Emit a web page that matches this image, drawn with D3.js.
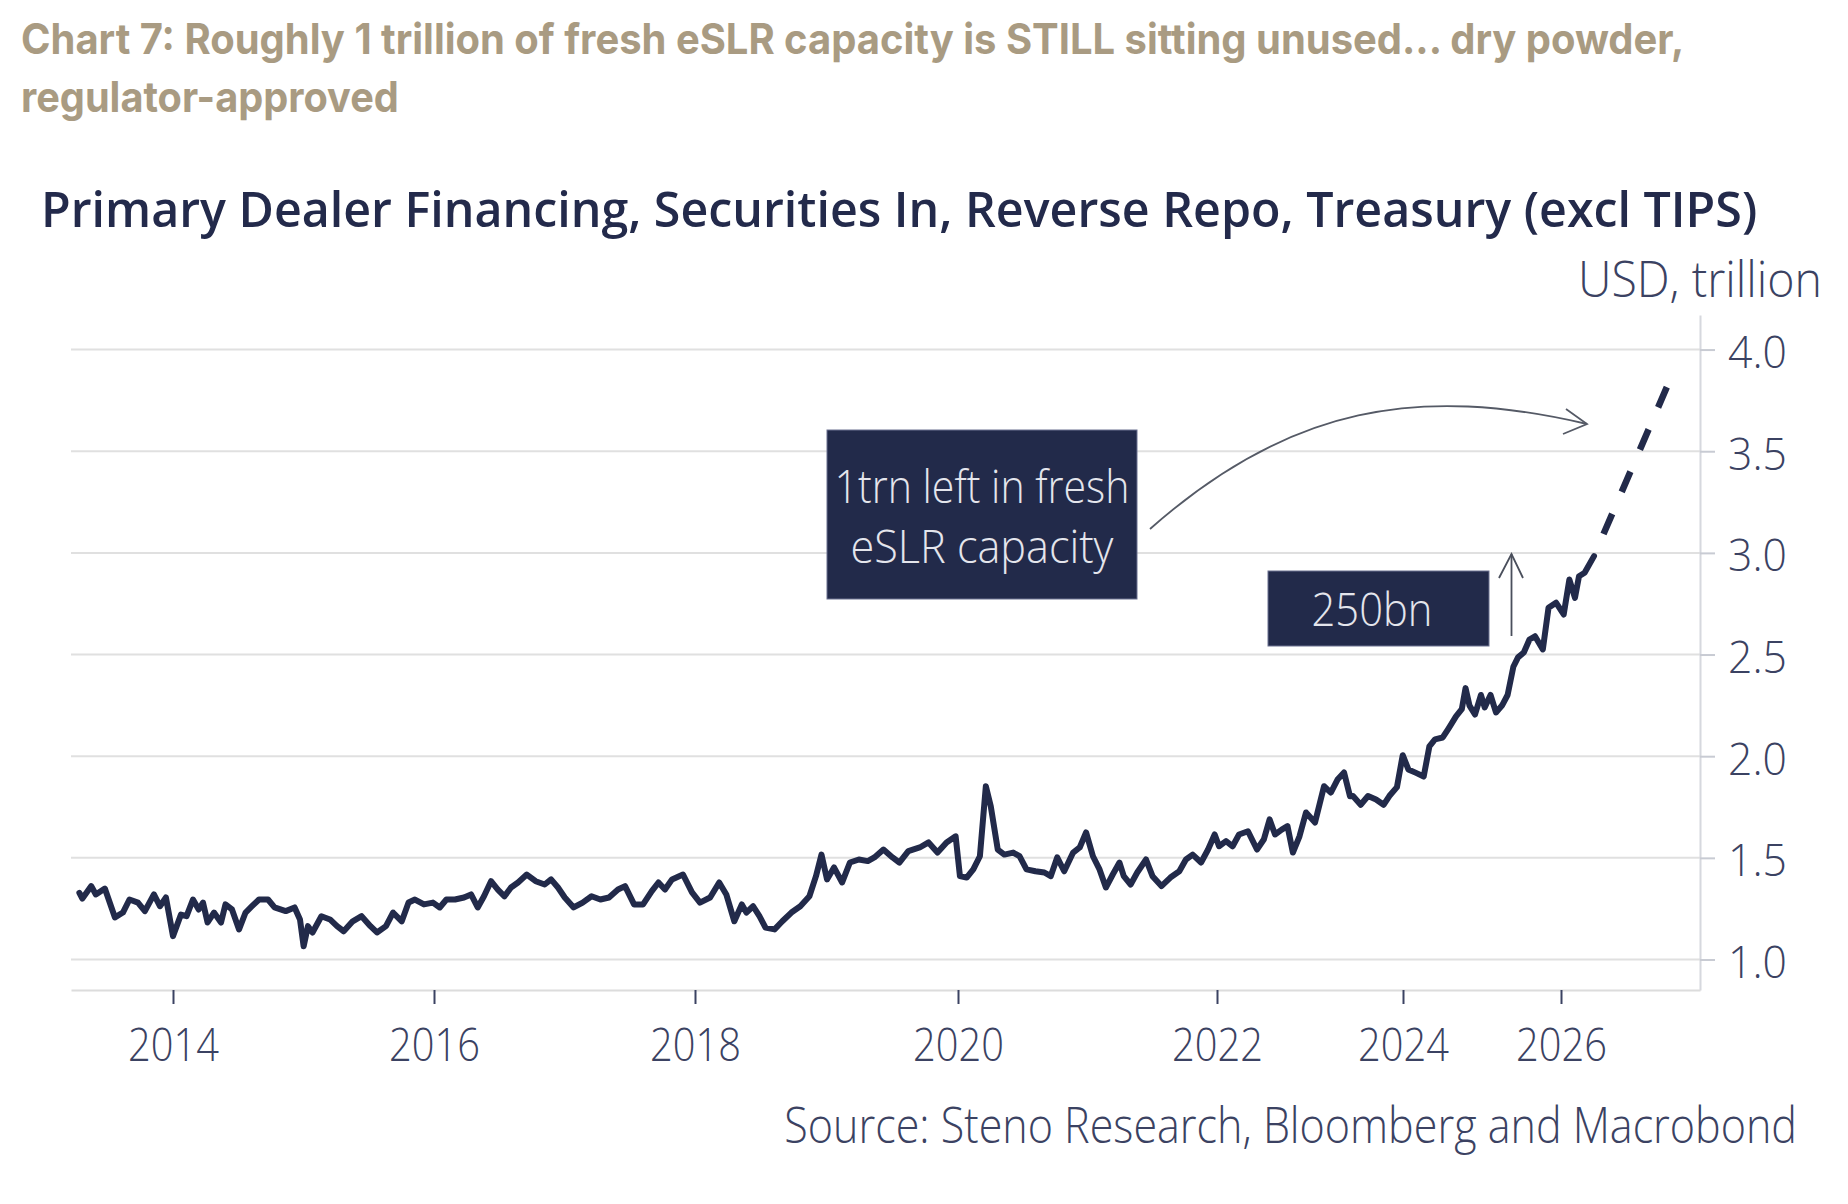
<!DOCTYPE html>
<html>
<head>
<meta charset="utf-8">
<script src="https://cdn.jsdelivr.net/npm/d3@7"></script>
<style>
  html, body { margin: 0; padding: 0; background: #ffffff; }
  svg { display: block; }
</style>
</head>
<body>
<svg id="chart" width="1848" height="1204"></svg>
<script>
// ---------------- DATA ----------------
const years = [
  2013.284, 2013.307, 2013.375, 2013.410, 2013.479, 2013.556, 2013.617, 2013.667, 2013.732, 2013.785,
  2013.854, 2013.900, 2013.946, 2014.000, 2014.061, 2014.104, 2014.153, 2014.197, 2014.230, 2014.265,
  2014.314, 2014.368, 2014.402, 2014.452, 2014.506, 2014.556, 2014.605, 2014.659, 2014.728, 2014.778,
  2014.864, 2014.932, 2014.973, 2015.001, 2015.034, 2015.069, 2015.137, 2015.203, 2015.257, 2015.308,
  2015.377, 2015.445, 2015.513, 2015.563, 2015.632, 2015.686, 2015.753, 2015.805, 2015.854, 2015.923,
  2015.992, 2016.044, 2016.095, 2016.161, 2016.230, 2016.284, 2016.335, 2016.383, 2016.437, 2016.489,
  2016.540, 2016.590, 2016.644, 2016.711, 2016.779, 2016.848, 2016.897, 2016.950, 2017.002, 2017.070,
  2017.139, 2017.207, 2017.275, 2017.341, 2017.410, 2017.464, 2017.533, 2017.602, 2017.669, 2017.720,
  2017.770, 2017.824, 2017.908, 2017.977, 2018.038, 2018.115, 2018.184, 2018.238, 2018.299, 2018.356,
  2018.391, 2018.442, 2018.490, 2018.536, 2018.605, 2018.664, 2018.733, 2018.801, 2018.870, 2018.920,
  2018.962, 2019.004, 2019.057, 2019.119, 2019.178, 2019.246, 2019.314, 2019.364, 2019.433, 2019.502,
  2019.554, 2019.622, 2019.709, 2019.776, 2019.844, 2019.913, 2019.982, 2020.015, 2020.067, 2020.118,
  2020.169, 2020.215, 2020.253, 2020.307, 2020.358, 2020.426, 2020.475, 2020.529, 2020.598, 2020.667,
  2020.716, 2020.766, 2020.820, 2020.889, 2020.940, 2020.989, 2021.042, 2021.093, 2021.142, 2021.195,
  2021.247, 2021.280, 2021.333, 2021.384, 2021.452, 2021.502, 2021.571, 2021.640, 2021.709, 2021.760,
  2021.812, 2021.877, 2021.931, 2021.982, 2022.022, 2022.097, 2022.168, 2022.237, 2022.333, 2022.430,
  2022.503, 2022.566, 2022.624, 2022.696, 2022.758, 2022.816, 2022.887, 2022.957, 2023.054, 2023.151,
  2023.224, 2023.296, 2023.366, 2023.430, 2023.462, 2023.545, 2023.624, 2023.710, 2023.791, 2023.853,
  2023.935, 2023.997, 2024.068, 2024.165, 2024.262, 2024.334, 2024.405, 2024.503, 2024.576, 2024.671,
  2024.744, 2024.792, 2024.842, 2024.911, 2024.987, 2025.034, 2025.108, 2025.177, 2025.253, 2025.324,
  2025.397, 2025.456, 2025.529, 2025.601, 2025.671, 2025.770, 2025.842, 2025.937, 2026.034, 2026.106,
  2026.177, 2026.228, 2026.299, 2026.418
];
const values = [
  1.328, 1.300, 1.361, 1.320, 1.349, 1.207, 1.231, 1.295, 1.280, 1.238,
  1.320, 1.262, 1.305, 1.115, 1.221, 1.213, 1.295, 1.246, 1.280, 1.182,
  1.231, 1.182, 1.271, 1.246, 1.148, 1.231, 1.262, 1.295, 1.295, 1.256,
  1.238, 1.256, 1.197, 1.065, 1.164, 1.133, 1.213, 1.197, 1.164, 1.139,
  1.188, 1.213, 1.164, 1.133, 1.164, 1.231, 1.188, 1.280, 1.295, 1.271,
  1.280, 1.256, 1.295, 1.295, 1.305, 1.320, 1.256, 1.311, 1.385, 1.344,
  1.311, 1.354, 1.379, 1.418, 1.385, 1.369, 1.394, 1.354, 1.305, 1.256,
  1.280, 1.311, 1.295, 1.305, 1.344, 1.361, 1.271, 1.271, 1.336, 1.379,
  1.344, 1.394, 1.418, 1.330, 1.280, 1.305, 1.379, 1.320, 1.188, 1.271,
  1.231, 1.262, 1.213, 1.157, 1.148, 1.188, 1.231, 1.262, 1.311, 1.410,
  1.516, 1.394, 1.453, 1.379, 1.477, 1.492, 1.484, 1.502, 1.541, 1.502,
  1.477, 1.533, 1.551, 1.576, 1.526, 1.576, 1.606, 1.410, 1.403, 1.443,
  1.508, 1.852, 1.754, 1.541, 1.516, 1.526, 1.508, 1.443, 1.434, 1.428,
  1.410, 1.502, 1.434, 1.526, 1.551, 1.625, 1.508, 1.443, 1.354, 1.418,
  1.477, 1.410, 1.369, 1.428, 1.492, 1.410, 1.361, 1.403, 1.434, 1.492,
  1.516, 1.477, 1.541, 1.615, 1.557, 1.582, 1.557, 1.615, 1.631, 1.541,
  1.590, 1.689, 1.615, 1.639, 1.656, 1.526, 1.606, 1.723, 1.674, 1.852,
  1.821, 1.885, 1.920, 1.803, 1.804, 1.761, 1.804, 1.787, 1.761, 1.804,
  1.848, 2.005, 1.935, 1.918, 1.900, 2.048, 2.083, 2.092, 2.136, 2.196,
  2.231, 2.335, 2.249, 2.205, 2.301, 2.240, 2.301, 2.215, 2.249, 2.301,
  2.440, 2.486, 2.510, 2.574, 2.590, 2.525, 2.730, 2.755, 2.697, 2.869,
  2.779, 2.885, 2.902, 2.984
];
// dashed projection
const projYears = [2026.418, 2027.354];
const projValues = [2.984, 3.828];

const xTickYears = [2014, 2016, 2018, 2020, 2022, 2024, 2026];
const yTickValues = [1.0, 1.5, 2.0, 2.5, 3.0, 3.5, 4.0];

const titleLines = [
  "Chart 7: Roughly 1 trillion of fresh eSLR capacity is STILL sitting unused... dry powder,",
  "regulator-approved"
];
const subtitle = "Primary Dealer Financing, Securities In, Reverse Repo, Treasury (excl TIPS)";
const unitLabel = "USD, trillion";
const sourceText = "Source: Steno Research, Bloomberg and Macrobond";
const box1Lines = ["1trn left in fresh", "eSLR capacity"];
const box2Text = "250bn";

// ---------------- LAYOUT ----------------
const svg = d3.select("#chart");
const NAVY = "#222a4a";
const AXIS_TXT = "#3b4262";
const LIGHT = "Open Sans, Noto Sans, sans-serif";

// the reference's time axis is not uniform: piecewise-linear year scale
const xBreaks = [2013.22, 2014, 2016, 2018, 2020, 2022, 2024, 2026, 2027.76];
const xBreakPos = [71, 173, 434, 695, 958, 1217, 1403, 1561, 1700];
const x = d3.scaleLinear().domain(xBreaks).range(xBreakPos);
const y = d3.scaleLinear().domain([0.85, 4.17]).range([990, 315]);

// text whose glyphs are condensed to a target width while keeping a given em height
function addText(g, o) {
  const holder = g.append("g");
  const t = holder.append("text")
    .attr("x", 0).attr("y", 0)
    .attr("font-family", o.family || LIGHT)
    .attr("font-size", o.size)
    .attr("font-weight", o.weight || 300)
    .attr("fill", o.fill || AXIS_TXT)
    .attr("text-anchor", o.anchor || "start")
    .text(o.text);
  let k = 1;
  if (o.width) {
    const w = t.node().getComputedTextLength();
    const s = o.size * o.width / w;
    t.attr("font-size", s);
    k = o.size / s;
  }
  holder.attr("transform", `translate(${o.x},${o.y}) scale(1,${k})`);
  return t;
}
function condenseTicks(sel, size, sampleWidth, baseY) {
  const nodes = sel.nodes();
  sel.attr("font-size", size);
  const w = nodes[nodes.length - 1].getComputedTextLength();
  const s = size * sampleWidth / w;
  const k = size / s;
  sel.attr("font-size", s).attr("y", baseY / k).attr("transform", `scale(1,${k})`);
}

// titles
addText(svg, {text: titleLines[0], x: 21, y: 54, size: 42.5, weight: 700,
  family: "Inter, sans-serif", fill: "#a99b82", width: 1664});
addText(svg, {text: titleLines[1], x: 21, y: 112, size: 42.5, weight: 700,
  family: "Inter, sans-serif", fill: "#a99b82", width: 378});
addText(svg, {text: subtitle, x: 41, y: 227, size: 49, weight: 600,
  family: "Open Sans, sans-serif", fill: "#232a4b", width: 1717});
addText(svg, {text: unitLabel, x: 1822, y: 297, size: 49, anchor: "end", width: 244});

// gridlines
svg.append("g").selectAll("line").data(yTickValues).join("line")
  .attr("x1", x(xBreaks[0])).attr("x2", x(xBreaks[xBreaks.length - 1]))
  .attr("y1", d => y(d)).attr("y2", d => y(d))
  .attr("stroke", "#e0e0e0").attr("stroke-width", 2);

// right axis
const yAxis = svg.append("g")
  .attr("transform", `translate(${x(xBreaks[xBreaks.length - 1])},0)`)
  .call(d3.axisRight(y).tickValues(yTickValues).tickSize(15).tickSizeOuter(0)
    .tickFormat(d3.format(".1f")));
yAxis.select(".domain").attr("stroke", "#d6d8de").attr("stroke-width", 2);
yAxis.selectAll(".tick line").attr("stroke", "#c8cbd3").attr("stroke-width", 2);
const yTickText = yAxis.selectAll(".tick text")
  .attr("x", 87).attr("dy", null)
  .attr("text-anchor", "end")
  .attr("font-family", LIGHT).attr("font-weight", 300)
  .attr("fill", AXIS_TXT);
condenseTicks(yTickText, 45, 59, 18);

// bottom axis
const xAxis = svg.append("g")
  .attr("transform", `translate(0,${y(0.85)})`)
  .call(d3.axisBottom(x).tickValues(xTickYears).tickSize(14).tickSizeOuter(0)
    .tickFormat(d3.format("d")));
xAxis.select(".domain").attr("stroke", "#dcdcdc").attr("stroke-width", 2);
xAxis.selectAll(".tick line").attr("stroke", AXIS_TXT).attr("stroke-width", 2);
const xTickText = xAxis.selectAll(".tick text")
  .attr("dy", null)
  .attr("font-family", LIGHT).attr("font-weight", 300)
  .attr("fill", AXIS_TXT);
condenseTicks(xTickText, 46, 91, 71);

// data line
const data = years.map((yr, i) => ({yr, v: values[i]}));
const proj = projYears.map((yr, i) => ({yr, v: projValues[i]}));
const line = d3.line().x(d => x(d.yr)).y(d => y(d.v));

svg.append("path").datum(data)
  .attr("d", line)
  .attr("fill", "none").attr("stroke", NAVY)
  .attr("stroke-width", 6).attr("stroke-linejoin", "round").attr("stroke-linecap", "round");

svg.append("path").datum(proj)
  .attr("d", line)
  .attr("fill", "none").attr("stroke", NAVY)
  .attr("stroke-width", 6.5).attr("stroke-dasharray", "22 24").attr("stroke-dashoffset", 22);

// annotation box 1
const ann = svg.append("g");
ann.append("rect").attr("x", 827).attr("y", 430).attr("width", 310).attr("height", 169)
  .attr("fill", NAVY).attr("stroke", "#6b7190").attr("stroke-width", 1);
addText(ann, {text: box1Lines[0], x: 982, y: 503, size: 46, anchor: "middle",
  fill: "#e4e5ec", width: 295});
addText(ann, {text: box1Lines[1], x: 982, y: 563, size: 46, anchor: "middle",
  fill: "#e4e5ec", width: 263});

// annotation box 2
ann.append("rect").attr("x", 1268).attr("y", 571).attr("width", 221).attr("height", 75)
  .attr("fill", NAVY).attr("stroke", "#6b7190").attr("stroke-width", 1);
addText(ann, {text: box2Text, x: 1372, y: 626, size: 46, anchor: "middle",
  fill: "#e4e5ec", width: 121});

// curved arrow
ann.append("path")
  .attr("d", "M1150,529 C1290,405 1420,385 1587,424")
  .attr("fill", "none").attr("stroke", "#555a66").attr("stroke-width", 1.8);
ann.append("path")
  .attr("d", "M1566,409 L1587,424 L1563,434")
  .attr("fill", "none").attr("stroke", "#555a66").attr("stroke-width", 1.8);

// straight up arrow
ann.append("path")
  .attr("d", "M1511.5,636 L1511.5,554")
  .attr("fill", "none").attr("stroke", "#4a4f5c").attr("stroke-width", 1.8);
ann.append("path")
  .attr("d", "M1499,578 L1511.5,554 L1523,578")
  .attr("fill", "none").attr("stroke", "#4a4f5c").attr("stroke-width", 1.8);

// source
addText(svg, {text: sourceText, x: 1797, y: 1143, size: 49, anchor: "end", width: 1013});
</script>
</body>
</html>
